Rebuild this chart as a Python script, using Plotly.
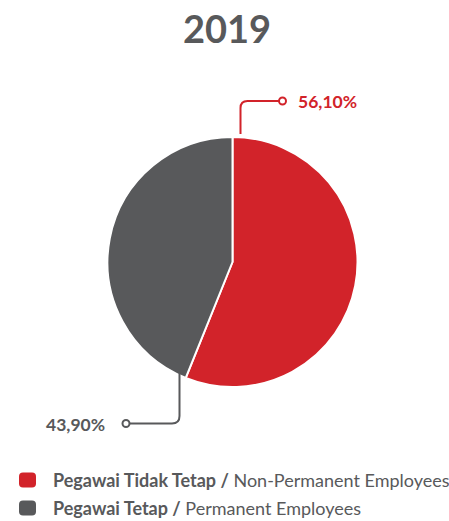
import plotly.graph_objects as go

title = "2019"
labels_id = ["Pegawai Tidak Tetap", "Pegawai Tetap"]
labels_en = ["Non-Permanent Employees", "Permanent Employees"]
values = [56.10, 43.90]
value_text = ["56,10%", "43,90%"]
colors = ["#D2232A", "#58595B"]

W, H = 449, 521
FONT = "Lato"
TFONT = "Lato"

fig = go.Figure()
cx, cy, r = 232.5, 262, 125
fig.add_trace(go.Pie(
    values=values, labels=[a + " / " + b for a, b in zip(labels_id, labels_en)],
    marker=dict(colors=colors, line=dict(color="white", width=2)),
    sort=False, direction="clockwise", rotation=0,
    textinfo="none", hoverinfo="label+percent", showlegend=False,
    domain=dict(x=[(cx - r) / W, (cx + r) / W], y=[(H - cy - r) / H, (H - cy + r) / H]),
))

# invisible pixel axes for callouts
fig.add_trace(go.Scatter(x=[0, W], y=[0, H], mode="markers", marker=dict(opacity=0),
                         showlegend=False, hoverinfo="skip"))
fig.update_xaxes(range=[0, W], visible=False, domain=[0, 1], fixedrange=True)
fig.update_yaxes(range=[H, 0], visible=False, domain=[0, 1], fixedrange=True)

# callout red
fig.add_shape(type="path", path="M 240.5 134 L 240.5 108 Q 240.5 101 247.5 101 L 279 101",
              line=dict(color=colors[0], width=2), xref="x", yref="y")
fig.add_shape(type="circle", x0=279, x1=286, y0=97.5, y1=104.5, xref="x", yref="y",
              line=dict(color=colors[0], width=2), fillcolor="white")
fig.add_annotation(x=296, y=101, xref="x", yref="y", text="<b>" + value_text[0] + "</b>",
                   showarrow=False, xanchor="left", yanchor="middle",
                   font=dict(family=FONT, size=17.5, color=colors[0]))
# callout gray
fig.add_shape(type="path", path="M 179.5 372 L 179.5 416 Q 179.5 423.5 172 423.5 L 129.5 423.5",
              line=dict(color=colors[1], width=2), xref="x", yref="y")
fig.add_shape(type="circle", x0=122.5, x1=129.5, y0=420, y1=427, xref="x", yref="y",
              line=dict(color=colors[1], width=2), fillcolor="white")
fig.add_annotation(x=107, y=424, xref="x", yref="y", text="<b>" + value_text[1] + "</b>",
                   showarrow=False, xanchor="right", yanchor="middle",
                   font=dict(family=FONT, size=17.5, color=colors[1]))

# title
fig.add_annotation(x=W / 2 + 2, y=28, xref="x", yref="y", text="<b>" + title + "</b>",
                   showarrow=False, xanchor="center", yanchor="middle",
                   font=dict(family=TFONT, size=38, color="#58595B"))

# legend
ys = [480, 508]
for i in range(2):
    y = ys[i]
    x0, x1, y0, y1 = 19, 36, y - 7.5, y + 7.5
    rr = 4
    p = (f"M {x0+rr} {y0} L {x1-rr} {y0} Q {x1} {y0} {x1} {y0+rr} L {x1} {y1-rr} "
         f"Q {x1} {y1} {x1-rr} {y1} L {x0+rr} {y1} Q {x0} {y1} {x0} {y1-rr} "
         f"L {x0} {y0+rr} Q {x0} {y0} {x0+rr} {y0} Z")
    fig.add_shape(type="path", path=p, fillcolor=colors[i], line=dict(width=0), xref="x", yref="y")
    fig.add_annotation(x=51, y=y, xref="x", yref="y",
                       text=f"<b>{labels_id[i]} /</b> {labels_en[i]}",
                       showarrow=False, xanchor="left", yanchor="middle",
                       font=dict(family=FONT, size=18, color="#58595B"))

fig.update_layout(width=W, height=H, margin=dict(l=0, r=0, t=0, b=0),
                  paper_bgcolor="white", plot_bgcolor="white")
fig.write_html("out.html", config={"displayModeBar": False},
               post_script="document.body.style.margin='0';document.body.style.overflow='hidden';")
